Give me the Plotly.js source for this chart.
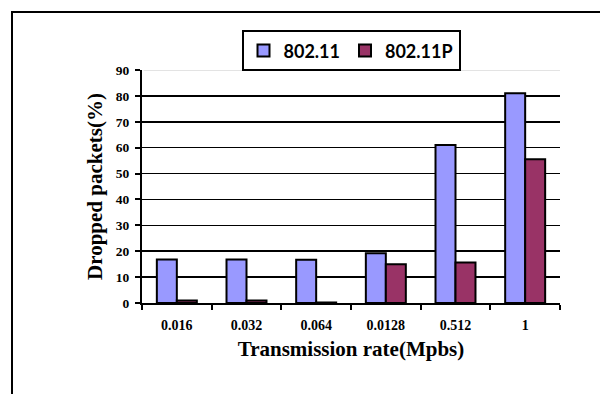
<!DOCTYPE html>
<html>
<head>
<meta charset="utf-8">
<script src="https://cdn.plot.ly/plotly-3.0.1.min.js"></script>
<style>
  html, body { margin: 0; padding: 0; background: #ffffff; overflow: hidden; }
  #frame { position: absolute; left: 11px; top: 11px; width: 700px; height: 500px;
           border: 2px solid #000; box-sizing: border-box; }
  #chart { position: absolute; left: 0; top: 0; width: 600px; height: 394px; }
</style>
</head>
<body>
<div id="frame"></div>
<div id="chart"></div>
<script>
// Transmission rates (Mbps) shown as categories
const rates = ['0.016', '0.032', '0.064', '0.0128', '0.512', '1'];
// Dropped packets (%) per protocol
const dropped80211 = [16.8, 16.8, 16.7, 19.2, 61.0, 81.0];
const dropped80211P = [1.0, 1.0, 0.2, 15.0, 15.6, 55.5];
const yTicks = [0, 10, 20, 30, 40, 50, 60, 70, 80, 90];

const serif = 'Liberation Serif, Times New Roman, serif';

const traces = [
  {
    type: 'bar', name: '802.11', x: rates, y: dropped80211,
    marker: { color: '#9999FF', line: { color: '#000000', width: 2 } }
  },
  {
    type: 'bar', name: '802.11P', x: rates, y: dropped80211P,
    marker: { color: '#993366', line: { color: '#000000', width: 2 } }
  }
];

const layout = {
  width: 600, height: 394,
  margin: { l: 142, r: 40, t: 70, b: 91 },
  paper_bgcolor: 'rgba(0,0,0,0)',
  plot_bgcolor: 'rgba(0,0,0,0)',
  barmode: 'group',
  bargap: 0.426,
  bargroupgap: 0,
  showlegend: true,
  legend: {
    orientation: 'h',
    x: 0.5, xanchor: 'center', xref: 'paper',
    y: 1.17, yanchor: 'top', yref: 'paper',
    bgcolor: '#ffffff', bordercolor: '#000000', borderwidth: 2,
    font: { family: 'Lato, sans-serif', size: 18, color: '#000000', weight: 'bold' },
    itemwidth: 30, tracegroupgap: 0
  },
  xaxis: {
    type: 'category',
    showline: true, linecolor: '#000000', linewidth: 2,
    ticks: 'outside', tickson: 'boundaries', ticklen: 5, tickwidth: 2, tickcolor: '#000000',
    ticklabelstandoff: 8,
    showgrid: false, zeroline: false,
    tickfont: { family: serif, size: 14, color: '#000000', weight: 'bold' },
    title: { text: 'Transmission rate(Mpbs)', standoff: 10,
             font: { family: serif, size: 21, color: '#000000', weight: 'bold' } }
  },
  yaxis: {
    range: [0, 90],
    tickvals: yTicks, ticktext: yTicks.map(String),
    showline: true, linecolor: '#000000', linewidth: 2,
    ticks: 'outside', ticklen: 5, tickwidth: 2, tickcolor: '#000000',
    ticklabelstandoff: 3,
    showgrid: true, gridcolor: '#000000', gridwidth: 1.5,
    zeroline: false,
    tickfont: { family: serif, size: 13.5, color: '#000000', weight: 'bold' },
    title: { text: 'Dropped packets(%)', standoff: 7,
             font: { family: serif, size: 21, color: '#000000', weight: 'bold' } }
  },
  shapes: [
    // soften the top edge gridline to a light grey rule
    { type: 'line', xref: 'paper', x0: 0.004, x1: 1, yref: 'y', y0: 90, y1: 90,
      line: { color: '#ffffff', width: 3 }, layer: 'above' },
    { type: 'line', xref: 'paper', x0: 0.004, x1: 1, yref: 'y', y0: 90, y1: 90,
      line: { color: '#c8c8c8', width: 1 }, layer: 'above' }
  ]
};

Plotly.newPlot('chart', traces, layout, { displayModeBar: false, staticPlot: true });
</script>
</body>
</html>
